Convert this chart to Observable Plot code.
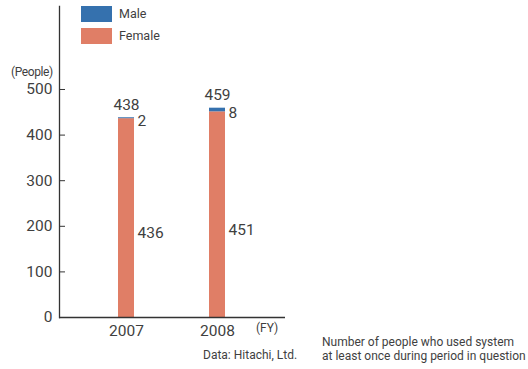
<!DOCTYPE html>
<html><head><meta charset="utf-8">
<script src="https://cdn.jsdelivr.net/npm/d3@7"></script>
<script src="https://cdn.jsdelivr.net/npm/@observablehq/plot@0.6"></script>
<style>
body{margin:0;background:#fff;}
#wrap{position:relative;width:528px;height:369px;font-family:Roboto,sans-serif;color:#3f3f3f;}
.abs{position:absolute;white-space:nowrap;font-size:12px;line-height:14px;}
.sw{position:absolute;width:31px;height:16px;}
</style></head>
<body><div id="wrap"></div>
<script>
const years = ["2007", "2008"];
const female = [436, 451];
const male = [2, 8];
const yTicks = [0, 100, 200, 300, 400, 500];
const seriesNames = ["Male", "Female"];
const seriesColors = ["#3571ae", "#e07e66"];

const data = [];
years.forEach((y, i) => {
  data.push({year: y, series: "Female", value: female[i]});
  data.push({year: y, series: "Male", value: male[i]});
});
const totals = years.map((y, i) => ({year: y, total: female[i] + male[i], female: female[i], male: male[i]}));

const font = 'Roboto,sans-serif';
const chart = Plot.plot({
  width: 528, height: 369,
  marginLeft: 59, marginTop: 6, marginBottom: 52, marginRight: 243,
  style: {fontFamily: font, fontSize: "15px", color: "#3f3f3f", background: "#fff"},
  x: {domain: years, range: [80.5, 262.5], paddingInner: 0.82, paddingOuter: 0.41, label: null},
  y: {domain: [0, 682], label: null},
  color: {domain: seriesNames, range: seriesColors},
  marks: [
    Plot.barY(data, {x: "year", y: "value", fill: "series", order: ["Female", "Male"]}),
    Plot.frame({anchor: "left", stroke: "#333", strokeWidth: 1.3}),
    Plot.ruleY([0], {stroke: "#333", strokeWidth: 1.3}),
    Plot.axisY({ticks: yTicks, tickSize: 0, tickPadding: 7, fontSize: 15.5, label: null}),
    Plot.axisY({ticks: yTicks, tickSize: -6, tickFormat: () => "", label: null, stroke: "#333"}),
    Plot.axisX({tickSize: 0, tickPadding: 7, fontSize: 15.5, label: null}),
    Plot.text(totals, {x: "year", y: "total", text: d => String(d.total), lineAnchor: "bottom", dy: -8, fontSize: 15.5, fill: "#3f3f3f"}),
    Plot.text(totals, {x: "year", y: d => d.female + d.male / 2, text: d => String(d.male), textAnchor: "start", dx: 11, dy: 3, fontSize: 15.5, fill: "#3f3f3f"}),
    Plot.text(totals, {x: "year", y: d => d.female * 0.425, text: d => String(d.female), textAnchor: "start", dx: 11, fontSize: 15.5, fill: "#3f3f3f"})
  ]
});
const wrap = document.getElementById("wrap");
wrap.appendChild(chart);
chart.style.position = "absolute"; chart.style.left = "0"; chart.style.top = "0";

function add(html, css, cls) {
  const d = document.createElement("div");
  d.className = cls || "abs";
  d.innerHTML = html;
  Object.assign(d.style, css);
  wrap.appendChild(d);
  return d;
}
seriesNames.forEach((n, i) => {
  add("", {left: "81px", top: (6 + i * 22) + "px", background: seriesColors[i]}, "sw");
  add(n, {left: "119px", top: (7 + i * 22) + "px", fontSize: "12.5px"});
});
add("(People)", {left: "11px", top: "65px", fontSize: "12px", letterSpacing: "-0.4px"});
add("(FY)", {left: "256px", top: "321px", fontSize: "12px"});
add("Data: Hitachi, Ltd.", {left: "203px", top: "348px", fontSize: "12px"});
add("Number of people who used system<br>at least once during period in question", {left: "322px", top: "335px", fontSize: "12px", lineHeight: "14px"});
</script></body></html>
